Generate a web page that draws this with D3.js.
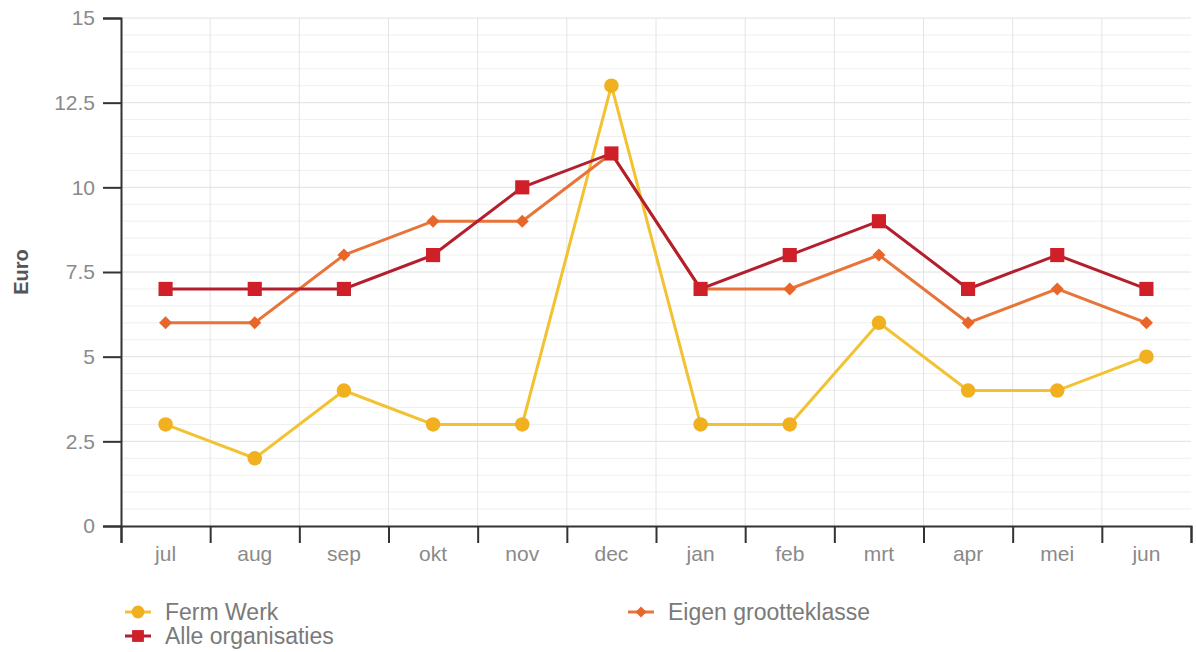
<!DOCTYPE html>
<html><head><meta charset="utf-8">
<script src="https://cdn.jsdelivr.net/npm/d3@7"></script>
<style>
body{margin:0;background:#fff;font-family:"Liberation Sans",Arial,sans-serif;}
</style></head><body>
<svg id="c" width="1196" height="652"></svg>
<script>
const months = ["jul","aug","sep","okt","nov","dec","jan","feb","mrt","apr","mei","jun"];
const fermWerk = [3,2,4,3,3,13,3,3,6,4,4,5];
const alleOrganisaties = [7,7,7,8,10,11,7,8,9,7,8,7];
const eigenGrootteklasse = [6,6,8,9,9,11,7,7,8,6,7,6];
const yTicks = [0,2.5,5,7.5,10,12.5,15];
const yTickLabels = ["0","2.5","5","7.5","10","12.5","15"];

const svg = d3.select("#c");
const m = {l:121, r:1191, t:18, b:526};
const x = d3.scaleBand().domain(months).range([m.l, m.r]);
const y = d3.scaleLinear().domain([0,15]).range([m.b, m.t]);

// grid
const g = svg.append("g");
g.selectAll("line.h").data(d3.range(0.5,15.01,0.5)).enter().append("line")
  .attr("x1",m.l).attr("x2",m.r).attr("y1",d=>y(d)).attr("y2",d=>y(d))
  .attr("stroke",d=>(Math.abs(d/2.5-Math.round(d/2.5))<1e-6)?"#e0e0e0":"#efefef").attr("stroke-width",1);
g.selectAll("line.v").data(months.slice(1)).enter().append("line")
  .attr("x1",d=>x(d)).attr("x2",d=>x(d)).attr("y1",m.t).attr("y2",m.b)
  .attr("stroke","#e4e4e4").attr("stroke-width",1);

// axes
const yAxis = d3.axisLeft(y).tickValues(yTicks).tickFormat((d,i)=>yTickLabels[i]).tickSize(18).tickPadding(8);
const ya = svg.append("g").attr("transform",`translate(${m.l},0)`).call(yAxis);
ya.select(".domain").attr("stroke","#333").attr("stroke-width",2);
ya.selectAll(".tick line").attr("stroke","#333").attr("stroke-width",2);
ya.selectAll(".tick text").attr("fill","#8a8a8a").style("font-size","21px").style("font-family","Liberation Sans, Arial, sans-serif");

const xb = d3.scaleLinear().domain([0,12]).range([m.l,m.r]);
const xa = svg.append("g").attr("transform",`translate(0,${m.b})`)
  .call(d3.axisBottom(xb).tickValues(d3.range(0,13)).tickFormat("").tickSize(17));
xa.select(".domain").attr("stroke","#333").attr("stroke-width",2);
xa.selectAll(".tick line").attr("stroke","#333").attr("stroke-width",2);
svg.append("g").selectAll("text").data(months).enter().append("text")
  .attr("x",d=>x(d)+x.bandwidth()/2).attr("y",561).attr("text-anchor","middle")
  .attr("fill","#8a8a8a").style("font-size","21px").text(d=>d);

svg.append("text").attr("transform","translate(28,272) rotate(-90)").attr("text-anchor","middle")
  .attr("fill","#555").style("font-size","20px").style("font-weight","bold").text("Euro");

const cx = d=>x(d)+x.bandwidth()/2;
function series(vals, lineColor, markColor, shape, size, rot){
  const line = d3.line().x((d,i)=>cx(months[i])).y(d=>y(d));
  svg.append("path").datum(vals).attr("d",line).attr("fill","none").attr("stroke",lineColor).attr("stroke-width",3);
  svg.append("g").selectAll("path").data(vals).enter().append("path")
    .attr("transform",(d,i)=>`translate(${cx(months[i])},${y(d)}) rotate(${rot||0})`)
    .attr("d",d3.symbol().type(shape).size(size)).attr("fill",markColor);
}
series(fermWerk,"#f2c233","#f0b020",d3.symbolCircle,165);
series(eigenGrootteklasse,"#e8743a","#e8662a",d3.symbolSquare,85,45);
series(alleOrganisaties,"#b41f2e","#cf1f28",d3.symbolSquare,200);

// legend
function legendItem(xp, yp, lineColor, markColor, shape, size, rot, label){
  const lg = svg.append("g").attr("transform",`translate(${xp},${yp})`);
  lg.append("line").attr("x1",0).attr("x2",26).attr("y1",0).attr("y2",0).attr("stroke",lineColor).attr("stroke-width",3);
  lg.append("path").attr("transform",`translate(13,0) rotate(${rot})`).attr("d",d3.symbol().type(shape).size(size)).attr("fill",markColor);
  lg.append("text").attr("x",40).attr("y",8).attr("fill","#7a7a7a").style("font-size","23px").text(label);
}
legendItem(125,612,"#f2c233","#f0b020",d3.symbolCircle,130,0,"Ferm Werk");
legendItem(125,636,"#b41f2e","#cf1f28",d3.symbolSquare,140,0,"Alle organisaties");
legendItem(628,612,"#e8743a","#e8662a",d3.symbolSquare,60,45,"Eigen grootteklasse");
</script></body></html>
